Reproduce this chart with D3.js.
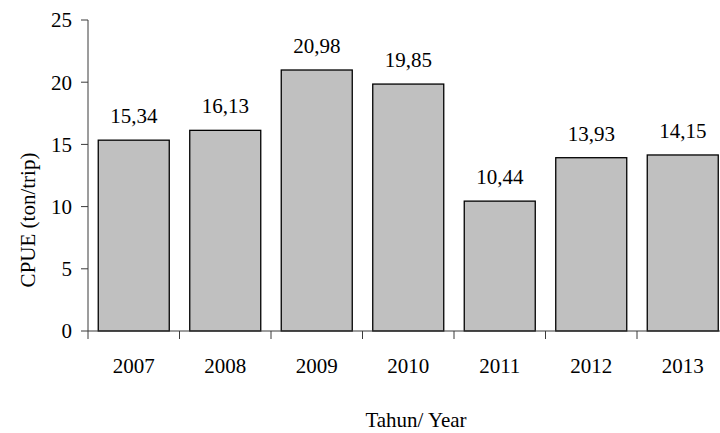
<!DOCTYPE html>
<html>
<head>
<meta charset="utf-8">
<script src="https://cdn.jsdelivr.net/npm/d3@7"></script>
<style>
  html, body { margin: 0; padding: 0; background: #fff; }
  svg { display: block; }
  text { font-family: "Liberation Serif", "Times New Roman", serif; fill: #000; }
</style>
</head>
<body>
<svg id="chart" width="720" height="433"></svg>
<script>
// CPUE per year
const years = ["2007", "2008", "2009", "2010", "2011", "2012", "2013"];
const cpue = [15.34, 16.13, 20.98, 19.85, 10.44, 13.93, 14.15];
const yTicks = [0, 5, 10, 15, 20, 25];
const xTitle = "Tahun/ Year";
const yTitle = "CPUE (ton/trip)";

const svg = d3.select("#chart");
const fontSize = 21;

const x = d3.scaleBand()
  .domain(years)
  .range([88, 728.5])
  .paddingInner(0.224)
  .paddingOuter(0.112);

const y = d3.scaleLinear().domain([0, 25]).range([331, 20]);

const comma = d3.formatLocale({ decimal: ",", thousands: ".", grouping: [3], currency: ["", ""] }).format(".2f");

const axisColor = "#3a3a3a";

// y axis
svg.append("line")
  .attr("x1", 88).attr("x2", 88)
  .attr("y1", y(25)).attr("y2", y(0))
  .attr("stroke", axisColor).attr("stroke-width", 1);

svg.selectAll(".ytick")
  .data(yTicks)
  .join("line")
  .attr("x1", 81).attr("x2", 88)
  .attr("y1", d => y(d)).attr("y2", d => y(d))
  .attr("stroke", axisColor).attr("stroke-width", 1);

svg.selectAll(".ylab")
  .data(yTicks)
  .join("text")
  .attr("x", 72)
  .attr("y", d => y(d))
  .attr("dy", "0.35em")
  .attr("text-anchor", "end")
  .attr("font-size", fontSize)
  .text(d => d);

// bars
svg.selectAll(".bar")
  .data(years)
  .join("rect")
  .attr("x", d => x(d))
  .attr("y", (d, i) => y(cpue[i]))
  .attr("width", x.bandwidth())
  .attr("height", (d, i) => y(0) - y(cpue[i]))
  .attr("fill", "#c0c0c0")
  .attr("stroke", "#000")
  .attr("stroke-width", 1.3);

// value labels
svg.selectAll(".val")
  .data(years)
  .join("text")
  .attr("x", d => x(d) + x.bandwidth() / 2)
  .attr("y", (d, i) => y(cpue[i]) - 17)
  .attr("text-anchor", "middle")
  .attr("font-size", fontSize)
  .text((d, i) => comma(cpue[i]));

// x axis
svg.append("line")
  .attr("x1", 88).attr("x2", 728.5)
  .attr("y1", y(0)).attr("y2", y(0))
  .attr("stroke", axisColor).attr("stroke-width", 1);

const step = x.step();
const bounds = d3.range(years.length + 1).map(i => x(years[0]) - step * x.paddingInner() / 2 + i * step);
svg.selectAll(".xtick")
  .data(bounds)
  .join("line")
  .attr("x1", d => d).attr("x2", d => d)
  .attr("y1", y(0)).attr("y2", y(0) + 8)
  .attr("stroke", axisColor).attr("stroke-width", 1);

svg.selectAll(".xlab")
  .data(years)
  .join("text")
  .attr("x", d => x(d) + x.bandwidth() / 2)
  .attr("y", 373)
  .attr("text-anchor", "middle")
  .attr("font-size", fontSize)
  .text(d => d);

// axis titles
svg.append("text")
  .attr("x", 416).attr("y", 427)
  .attr("text-anchor", "middle")
  .attr("font-size", fontSize)
  .text(xTitle);

svg.append("text")
  .attr("transform", "translate(35,220) rotate(-90)")
  .attr("text-anchor", "middle")
  .attr("font-size", fontSize)
  .text(yTitle);
</script>
</body>
</html>
